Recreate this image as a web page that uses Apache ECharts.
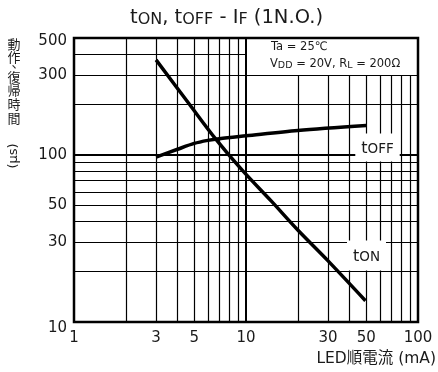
<!DOCTYPE html>
<html><head><meta charset="utf-8">
<script src="https://cdn.jsdelivr.net/npm/echarts@6/dist/echarts.min.js"></script>
<style>html,body{margin:0;padding:0;background:#fff}#c{width:438px;height:372px}</style>
</head><body><div id="c"></div>
<script>
// ---- data ----
const xTickLabels = [1, 3, 5, 10, 30, 50, 100];
const yTickLabels = [10, 30, 50, 100, 300, 500];
const tOnCurrent = [3, 4.7, 6.6, 9.5, 14, 20, 30, 49.5];
const tOnTime = [370, 200, 126, 81, 53, 35.5, 23.2, 13.4];
const tOffCurrent = [3, 4, 5, 6, 7, 10, 20, 50];
const tOffTime = [97, 108, 117, 122, 125, 130, 140, 150];
const xGridLow = [2, 3, 4, 5, 6, 7, 8, 9];
const xGridHigh = [20, 30, 40, 50, 60, 70, 80, 90];
const yGridFull = [20, 30, 40, 50, 60, 70, 80, 90, 200, 300];
const yGridShort = [400];

const FONT = "'DejaVu Sans', 'Noto Sans CJK JP', sans-serif";
const CJK = "'Noto Sans CJK JP', 'DejaVu Sans', sans-serif";
const TXT = '#1a1a1a';

const thin = { color: '#000', width: 1.2, type: 'solid' };
const bold = { color: '#000', width: 2, type: 'solid' };
const gridLines = [];
xGridLow.forEach(v => gridLines.push([{ coord: [v, 10], lineStyle: thin }, { coord: [v, 500] }]));
gridLines.push([{ coord: [10, 10], lineStyle: bold }, { coord: [10, 500] }]);
xGridHigh.forEach(v => gridLines.push([{ coord: [v, 10], lineStyle: thin }, { coord: [v, 300] }]));
yGridFull.forEach(v => gridLines.push([{ coord: [1, v], lineStyle: thin }, { coord: [100, v] }]));
gridLines.push([{ coord: [1, 100], lineStyle: bold }, { coord: [100, 100] }]);
yGridShort.forEach(v => gridLines.push([{ coord: [1, v], lineStyle: thin }, { coord: [10, v] }]));

const chart = echarts.init(document.getElementById('c'), null, { renderer: 'canvas' });
const yNameChars = [
  { t: '動', x: 14, y: 44 }, { t: '作', x: 14, y: 57.5 }, { t: '、', x: 18, y: 62 },
  { t: '復', x: 14, y: 77 }, { t: '帰', x: 14, y: 90.5 }, { t: '時', x: 14, y: 104 }, { t: '間', x: 14, y: 118 }
];
const graphics = yNameChars.map(c => ({
  type: 'text', x: c.x, y: c.y, z: 100,
  style: { text: c.t, fontSize: 13, fontFamily: CJK, fill: TXT, align: 'center', verticalAlign: 'middle' }
}));
graphics.push({
  type: 'text', x: 14, y: 156, rotation: Math.PI / 2, z: 100,
  style: { text: '(μs)', fontSize: 13, fontFamily: FONT, fill: TXT, align: 'center', verticalAlign: 'middle' }
});
graphics.push({
  type: 'text', x: 436, y: 359, z: 100,
  style: { text: 'LED順電流 (mA)', fontSize: 15.5, fontFamily: FONT, fill: TXT, align: 'right', verticalAlign: 'middle' }
});
graphics.push({
  type: 'text', x: 271, y: 47.5, z: 100,
  style: { text: 'Ta = 25℃', fontSize: 11.5, fontFamily: FONT, fill: TXT, align: 'left', verticalAlign: 'middle' }
});
graphics.push({
  type: 'text', x: 270, y: 63, z: 100,
  style: {
    text: '{a|V}{b|DD}{a| = 20V, R}{b|L}{a| = 200Ω}', align: 'left', verticalAlign: 'middle',
    rich: {
      a: { fontSize: 11.5, fontFamily: FONT, fill: TXT, lineHeight: 14, verticalAlign: 'bottom' },
      b: { fontSize: 9.5, fontFamily: FONT, fill: TXT, lineHeight: 10, verticalAlign: 'bottom' }
    }
  }
});
graphics.push({
  type: 'text', x: 377.5, y: 147.5, z: 100,
  style: {
    text: '{a|t}{b|OFF}', align: 'center', verticalAlign: 'middle', backgroundColor: '#fff', padding: [5, 6, 5, 6],
    rich: {
      a: { fontSize: 16, fontFamily: FONT, fill: TXT, lineHeight: 18, verticalAlign: 'bottom' },
      b: { fontSize: 13.5, fontFamily: FONT, fill: TXT, lineHeight: 14, verticalAlign: 'bottom' }
    }
  }
});
graphics.push({
  type: 'text', x: 366.5, y: 255.5, z: 100,
  style: {
    text: '{a|t}{b|ON}', align: 'center', verticalAlign: 'middle', backgroundColor: '#fff', padding: [6, 6, 6, 6],
    rich: {
      a: { fontSize: 16, fontFamily: FONT, fill: TXT, lineHeight: 18, verticalAlign: 'bottom' },
      b: { fontSize: 13.5, fontFamily: FONT, fill: TXT, lineHeight: 14, verticalAlign: 'bottom' }
    }
  }
});

chart.setOption({
  animation: false,
  backgroundColor: '#fff',
  title: {
    text: '{a|t}{b|ON}{a|, t}{b|OFF}{a| - I}{b|F}{a| (1N.O.)}',
    left: 130, top: 6, padding: 0,
    textStyle: {
      fontWeight: 'normal',
      rich: {
        a: { fontSize: 19.5, fontFamily: FONT, fontWeight: 'normal', color: TXT, lineHeight: 22, verticalAlign: 'bottom' },
        b: { fontSize: 16, fontFamily: FONT, fontWeight: 'normal', color: TXT, lineHeight: 16, verticalAlign: 'bottom' }
      }
    }
  },
  grid: { left: 74, right: 20, top: 38, bottom: 50, show: true, borderColor: '#000', borderWidth: 2.5, backgroundColor: 'transparent' },
  xAxis: {
    type: 'log', logBase: 10, min: 1, max: 100,
    axisLine: { show: false }, axisTick: { show: false }, splitLine: { show: false }, minorSplitLine: { show: false },
    axisLabel: { customValues: xTickLabels, fontSize: 15, fontFamily: FONT, color: TXT, margin: 9, showMinLabel: true, showMaxLabel: true }
  },
  yAxis: {
    type: 'log', logBase: 10, min: 10, max: 500,
    axisLine: { show: false }, axisTick: { show: false }, splitLine: { show: false },
    axisLabel: {
      customValues: yTickLabels, fontSize: 15, fontFamily: FONT, color: TXT, margin: 7, showMinLabel: true, showMaxLabel: true,
      formatter: v => (v === 10 ? '{lo|10}' : v === 500 ? '{hi|500}' : String(v)),
      rich: {
        lo: { fontSize: 15, fontFamily: FONT, color: TXT, padding: [12, 0, 0, 0] },
        hi: { fontSize: 15, fontFamily: FONT, color: TXT, padding: [7, 0, 0, 0] }
      }
    }
  },
  graphic: graphics,
  series: [
    {
      name: 'grid', type: 'line', data: [], silent: true,
      markLine: { silent: true, symbol: 'none', z: 1, label: { show: false }, animation: false, data: gridLines }
    },
    {
      name: 'tOFF', type: 'line', z: 5, smooth: 0.3, showSymbol: false,
      lineStyle: { color: '#000', width: 3.5 },
      data: tOffCurrent.map((x, i) => [x, tOffTime[i]])
    },
    {
      name: 'tON', type: 'line', z: 5, smooth: 0.3, showSymbol: false,
      lineStyle: { color: '#000', width: 3.5 },
      data: tOnCurrent.map((x, i) => [x, tOnTime[i]])
    }
  ]
});
</script></body></html>
